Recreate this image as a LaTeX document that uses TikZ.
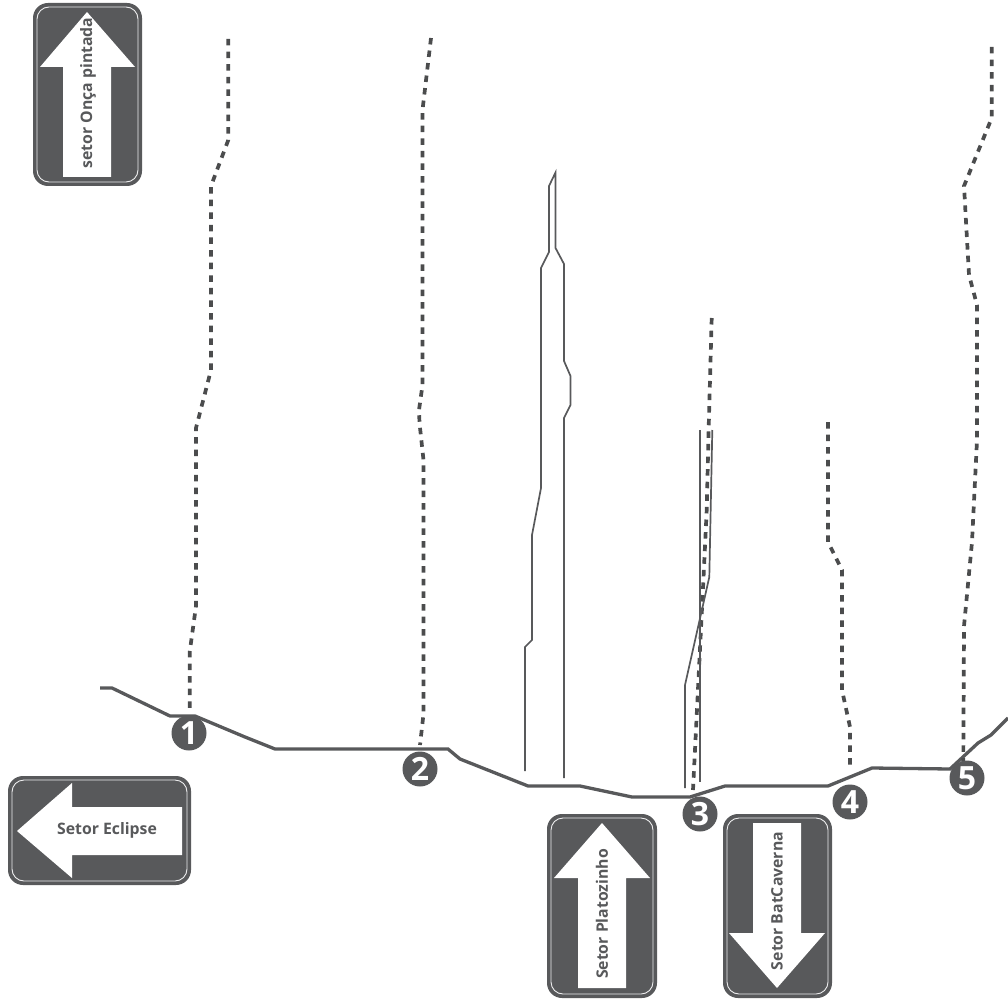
\documentclass[tikz,border=0pt]{standalone}
\usepackage{fontspec}
\setmainfont{Open Sans}
\definecolor{signgray}{HTML}{58595B}
\tikzset{
    trail/.style={draw=signgray, line width=3.3pt},
    dashtrail/.style={draw=signgray!85!black, line width=3.7pt, dash pattern=on 6.5pt off 6.1pt},
    thinwall/.style={draw=signgray, line width=1.7pt},
    signbox/.style={fill=signgray, rounded corners=15pt},
    signrim/.style={draw=white!90!signgray, line width=0.9pt, rounded corners=12pt},
    signarrow/.style={fill=white},
    signlabel/.style={text=signgray, font=\bfseries\fontsize{15.8}{15.8}\selectfont, inner sep=0pt},
    stopmark/.style={circle, fill=signgray, text=white, minimum size=35pt, inner sep=0pt, font=\bfseries\fontsize{32}{32}\selectfont}
}
\begin{document}
\begin{tikzpicture}[x=1pt, y=-1pt]
    \useasboundingbox (0,0) rectangle (1008,1000);
    % main trail
    \draw [trail] (100,688) -- (112,688) -- (170,716) -- (195,716) -- (245,737) -- (275,749) -- (448,749) -- (460,759) -- (528,786) -- (580,786) -- (632,797) -- (690,797) -- (725,786) -- (828,786) -- (872,768) -- (950,769) -- (978,743) -- (991,735) -- (1008,718);
    % dashed side trails
    \draw [dashtrail] (228.3,39) -- (228.3,140) -- (211,186) -- (211,370) -- (196,428) -- (196,606) -- (189.7,652) -- (189.7,708);
    \draw [dashtrail] (431,38) -- (422.5,110) -- (422.5,385) -- (419,410) -- (419.5,423) -- (423.5,460) -- (423.5,714) -- (420,745);
    \draw [dashtrail] (711.7,318) -- (708.7,427) -- (706.7,510) -- (703.3,582) -- (693,790);
    \draw [dashtrail] (828,422) -- (828,542) -- (842,570) -- (842,690) -- (850,727) -- (850,768);
    \draw [dashtrail] (991.7,47) -- (991.7,118) -- (964,186) -- (969,275) -- (977,305) -- (977,440) -- (972,542) -- (964,626) -- (963.3,762);
    % thin walls
    \draw [thinwall] (525,771) -- (525,647) -- (532,640) -- (532,535) -- (541,488) -- (541,268) -- (549,252) -- (549,186) -- (555.5,172.5) -- (555.5,248) -- (564,264) -- (564,361) -- (570.5,376) -- (570.5,405) -- (564,418) -- (564,778);
    \draw [thinwall] (699.7,430) -- (699.7,782);
    \draw [thinwall] (712.3,430) -- (709.3,577) -- (685,685) -- (685,788);
    % stops
    \node [stopmark] (stop1) at (189,733) {1};
    \node [stopmark] (stop2) at (420,769) {2};
    \node [stopmark] (stop3) at (700,814) {3};
    \node [stopmark] (stop4) at (850,802) {4};
    \node [stopmark] (stop5) at (967,778) {5};
    % sign up left
    \fill [signbox] (33,3) rectangle (142,186);
    \draw [signrim] (37,7) rectangle (138,182);
    \fill [signarrow] (87,12) -- (135,67) -- (111,67) -- (111,177) -- (63,177) -- (63,67) -- (40,67) -- cycle;
    \node [signlabel, rotate=90] (oncaname) at (88,93) {setor Onça pintada};
    % sign left
    \fill [signbox] (8,776) rectangle (191,885);
    \draw [signrim] (12,780) rectangle (187,881);
    \fill [signarrow] (17,831) -- (72,783) -- (72,807) -- (182,807) -- (182,855) -- (72,855) -- (72,878) -- cycle;
    \node [signlabel] (eclipsename) at (107,830) {Setor Eclipse};
    % sign platozinho
    \fill [signbox] (547,814) rectangle (657,998);
    \draw [signrim] (551,818) rectangle (653,994);
    \fill [signarrow] (602,823) -- (650,878) -- (626,878) -- (626,988) -- (578,988) -- (578,878) -- (554,878) -- cycle;
    \node [signlabel, rotate=90] (platoname) at (602,914) {Setor Platozinho};
    % sign batcaverna
    \fill [signbox] (723,814) rectangle (832,998);
    \draw [signrim] (727,818) rectangle (828,994);
    \fill [signarrow] (777,988) -- (825,933) -- (801,933) -- (801,823) -- (753,823) -- (753,933) -- (729,933) -- cycle;
    \node [signlabel, rotate=90] (batname) at (777,901) {Setor BatCaverna};
\end{tikzpicture}
\end{document}
